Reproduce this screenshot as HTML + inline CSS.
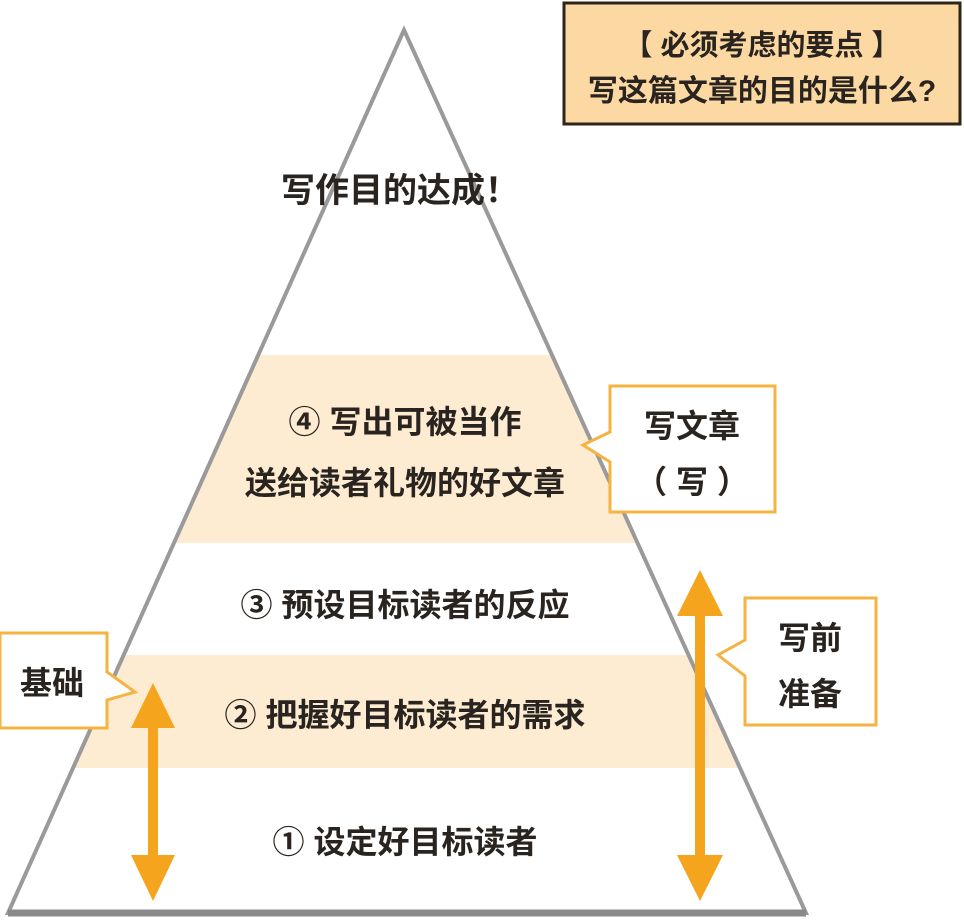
<!DOCTYPE html>
<html><head><meta charset="utf-8"><style>
html,body{margin:0;padding:0;background:#fff;width:964px;height:920px;overflow:hidden}
svg text{font-family:"Liberation Sans","Noto Sans CJK SC",sans-serif;fill:#2a2420;font-weight:bold}
</style></head><body>
<svg width="964" height="920" viewBox="0 0 964 920" xmlns="http://www.w3.org/2000/svg">
<defs><clipPath id="tri"><polygon points="404,30 8,913 806,913"/></clipPath></defs>
<g clip-path="url(#tri)">
<rect x="0" y="355" width="964" height="188" fill="#fdebd2"/>
<rect x="0" y="655" width="964" height="113" fill="#fdebd2"/>
</g>
<polygon points="404,30 8,913 806,913" fill="none" stroke="#9a9a9a" stroke-width="4" stroke-linejoin="miter"/>
<line x1="8" y1="913" x2="806" y2="913" stroke="#8a8a8a" stroke-width="7"/>

<rect x="564" y="3" width="396" height="121" fill="#fcd9a2" stroke="#2e2418" stroke-width="3"/>
<text x="762" y="55" font-size="29" text-anchor="middle">【 必须考虑的要点 】</text>
<text x="762" y="101" font-size="30" text-anchor="middle">写这篇文章的目的是什么?</text>

<text x="400" y="202" font-size="34" text-anchor="middle">写作目的达成！</text>
<text x="405" y="433" font-size="32" text-anchor="middle">④ 写出可被当作</text>
<text x="405" y="494" font-size="32" text-anchor="middle">送给读者礼物的好文章</text>
<text x="405" y="616" font-size="32" text-anchor="middle">③ 预设目标读者的反应</text>
<text x="405" y="726" font-size="32" text-anchor="middle">② 把握好目标读者的需求</text>
<text x="405" y="853" font-size="32" text-anchor="middle">① 设定好目标读者</text>

<path d="M610,386 H775 V512 H610 V462 L583,445 L610,432 Z" fill="#fff" stroke="#f5b342" stroke-width="3"/>
<text x="692" y="437" font-size="32" text-anchor="middle">写文章</text>
<text x="692" y="493" font-size="32" text-anchor="middle">（ 写 ）</text>

<path d="M745,598 H876 V725 H745 V676 L718,655 L745,640 Z" fill="#fff" stroke="#f5b342" stroke-width="3"/>
<text x="810" y="649" font-size="32" text-anchor="middle">写前</text>
<text x="810" y="705" font-size="32" text-anchor="middle">准备</text>

<path d="M0,633 H107 V672 L135,692 L107,700 V728 H0 Z" fill="#fff" stroke="#f5b342" stroke-width="3"/>
<text x="52" y="694" font-size="32" text-anchor="middle">基础</text>

<g fill="#f5a41e">
<rect x="148" y="720" width="10" height="145"/>
<polygon points="153,683 131,728 175,728"/>
<polygon points="153,901 131,855 175,855"/>
<rect x="695" y="610" width="10" height="255"/>
<polygon points="700,570 677,616 723,616"/>
<polygon points="700,901 677,855 723,855"/>
</g>
</svg>
</body></html>
